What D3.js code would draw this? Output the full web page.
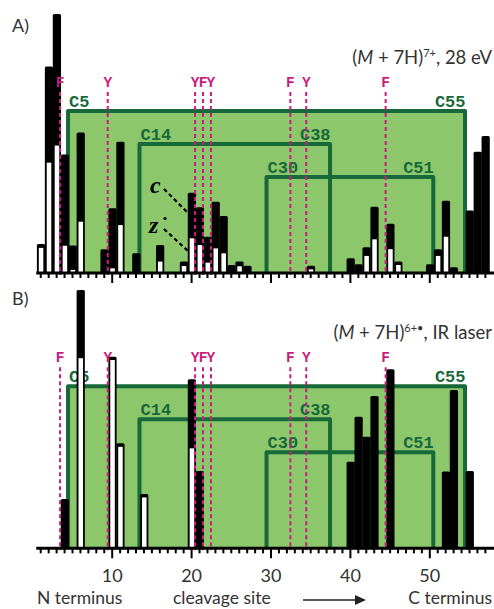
<!DOCTYPE html>
<html><head><meta charset="utf-8">
<script src="https://cdn.jsdelivr.net/npm/d3@7"></script>
<style>body{margin:0;background:#fff}svg{display:block}</style>
</head><body>
<svg id="c" width="494" height="609"></svg>
<script>
// ---------------- DATA ----------------
const sitesA = [1,2,3,4,5,6,9,10,11,13,16,19,20,21,22,23,24,25,26,27,35,40,41,42,43,45,46,50,51,52,53,55,56,57];
const zA =     [9.7,42.6,49.2,10.5,1.2,19.8,0,1.8,18.5,0,4.4,2.7,13.4,10.8,4.0,9.5,7.6,0,2.6,0,1.4,0,0,6.6,13.0,9.2,3.1,0,6.6,14.0,0,0,0,0];
const cA =     [1.5,37.1,50.8,35.3,9.4,34.4,9.2,23.2,32.2,7.6,6.4,1.7,17.6,14.6,10.0,18.0,14.4,3.1,1.8,2.8,1.4,5.7,3.4,3.3,12.6,9.8,1.3,3.4,2.6,13.9,2.2,24.1,46.8,52.9];

const sitesB = [4,6,10,11,14,20,21,40,41,42,43,45,52,53,55];
const zB =     [0,73.6,72.9,39.3,19.7,38.7,0,0,0,0,0,0,0,0,0];
const cB =     [19.1,26.4,1.3,1.4,1.3,26.7,29.9,33.5,50.9,43.2,59.0,69.3,29.7,61.3,29.9];

const aromaticRes  = [4,10,21,22,23,33,35,45];
const aromaticName = ["F","Y","Y","F","Y","F","Y","F"];
const cysLeft  = [5,14,30];
const cysRight = [55,38,51];
const majorTicks = [10,20,30,40,50];
const panelLabels = ["A)","B)"];

// ---------------- LAYOUT ----------------
const W = 494, H = 609;
const svg = d3.select("#c");
const x = d3.scaleLinear().domain([0,58]).range([32.3, 32.3 + 7.94*58]);
const levels = [162, 129, 96];
const fillGreen = "#8dc76c", darkGreen = "#17693a", magenta = "#c81d7e";
const sans = "Lato, 'Open Sans', sans-serif";
const mono = "'Liberation Mono', 'DejaVu Sans Mono', monospace";

const panels = [
  {sites: sitesA, c: cA, z: zA, base: 273, top: 14, showLabels: false, label: panelLabels[0], labelY: 32},
  {sites: sitesB, c: cB, z: zB, base: 548.3, top: 290, showLabels: true, label: panelLabels[1], labelY: 305}
];

panels.forEach((p, pi) => {
  const y = d3.scaleLinear().domain([0,100]).range([p.base, p.top]);
  const g = svg.append("g");

  // green disulfide region
  g.append("rect")
    .attr("x", x(cysLeft[0]-0.5)).attr("y", p.base - levels[0])
    .attr("width", x(cysRight[0]-0.5) - x(cysLeft[0]-0.5)).attr("height", levels[0])
    .attr("fill", fillGreen);

  cysLeft.forEach((a, i) => {
    const b = cysRight[i];
    const yl = p.base - levels[i];
    g.append("path")
      .attr("d", `M${x(a-0.5)},${p.base}V${yl}H${x(b-0.5)}V${p.base}`)
      .attr("fill","none").attr("stroke", darkGreen).attr("stroke-width", 4)
      .attr("stroke-linejoin","round");
    g.append("text").attr("x", x(a-0.5)+1).attr("y", yl-4)
      .attr("font-family", mono).attr("font-weight","bold").attr("font-size", 17)
      .attr("fill", darkGreen).text("C"+a);
    g.append("text").attr("x", x(b-0.5)+0.5).attr("y", yl-4).attr("text-anchor","end")
      .attr("font-family", mono).attr("font-weight","bold").attr("font-size", 17)
      .attr("fill", darkGreen).text("C"+b);
  });

  // bars
  const data = p.sites.map((s, i) => ({s, c: p.c[i], z: p.z[i]}));
  const bw = x(1) - x(0);
  const bars = g.append("g").selectAll("g").data(data).join("g");
  bars.append("rect")
    .attr("x", d => x(d.s - 0.42)).attr("width", bw + 0.3)
    .attr("y", d => y(d.c + d.z)).attr("height", d => p.base - y(d.c + d.z) + 1)
    .attr("rx", 1.5).attr("fill", "#000");
  bars.filter(d => d.z > 0).append("rect")
    .attr("x", d => x(d.s - 0.42) + 1.9).attr("width", bw - 3.4)
    .attr("y", d => y(d.z)).attr("height", d => p.base - y(d.z))
    .attr("fill", "#fff");

  // aromatic residues
  aromaticRes.forEach((r, i) => {
    g.append("line")
      .attr("x1", x(r-0.5)).attr("x2", x(r-0.5))
      .attr("y1", p.base - 181).attr("y2", p.base + 2)
      .attr("stroke", magenta).attr("stroke-width", 2).attr("stroke-dasharray", "4,3");
    g.append("text").attr("x", x(r-0.5)).attr("y", p.base - 186).attr("text-anchor","middle")
      .attr("font-family", mono).attr("font-weight","bold").attr("font-size", 14.5)
      .attr("fill", magenta).text(aromaticName[i]);
  });

  // axis
  const axis = d3.axisBottom(x).tickValues(d3.range(1,58)).tickSize(5).tickSizeOuter(0)
    .tickFormat(d => (p.showLabels && majorTicks.includes(d)) ? d : "");
  const ag = g.append("g").attr("transform", `translate(0,${p.base})`).call(axis);
  ag.select(".domain").remove();
  ag.selectAll(".tick line").attr("stroke","#000").attr("stroke-width", 2)
    .attr("y2", d => majorTicks.includes(d) ? 10 : 5);
  ag.selectAll(".tick text").attr("y", 20.5).attr("font-family", sans)
    .attr("font-size", 18).attr("fill", "#333");
  g.append("line").attr("x1", x(0.5)).attr("x2", W).attr("y1", p.base).attr("y2", p.base)
    .attr("stroke","#000").attr("stroke-width", 3);

  // panel letter
  svg.append("text").attr("x", 12).attr("y", p.labelY).attr("font-family", sans)
    .attr("font-size", 18).attr("fill", "#333").text(p.label);
});

// c / z annotation (panel A)
const ann = svg.append("g");
ann.append("text").attr("x", 150).attr("y", 193).attr("font-family","'Liberation Serif', 'DejaVu Serif', serif")
  .attr("font-style","italic").attr("font-weight","bold").attr("font-size", 24).text("c");
ann.append("text").attr("x", 149).attr("y", 233).attr("font-family","'Liberation Serif', 'DejaVu Serif', serif")
  .attr("font-style","italic").attr("font-weight","bold").attr("font-size", 24).text("z");
ann.append("line").attr("x1",164).attr("y1",189).attr("x2",188).attr("y2",213)
  .attr("stroke","#000").attr("stroke-width",2.2).attr("stroke-dasharray","4,3");
ann.append("line").attr("x1",164).attr("y1",229).attr("x2",188).attr("y2",251)
  .attr("stroke","#000").attr("stroke-width",2.2).attr("stroke-dasharray","4,3");
ann.append("circle").attr("cx",165).attr("cy",218.5).attr("r",1.6).attr("fill","#000");

// titles
function title(yPos, sup, rest) {
  const t = svg.append("text").attr("x", 492).attr("y", yPos).attr("text-anchor","end")
    .attr("font-family", sans).attr("font-size", 18.5).attr("fill", "#333");
  t.append("tspan").text("(");
  t.append("tspan").attr("font-style","italic").text("M");
  t.append("tspan").text(" + 7H)");
  t.append("tspan").attr("dy", -7).attr("font-size", 11).text(sup);
  t.append("tspan").attr("dy", 7).text(rest);
}
title(64, "7+", ", 28 eV");
title(339, "6+\u2022", ", IR laser");

// x labels
svg.append("text").attr("x", 37).attr("y", 604).attr("font-family", sans).attr("font-size", 17.5)
  .attr("fill","#333").text("N terminus");
svg.append("text").attr("x", 173).attr("y", 604).attr("font-family", sans).attr("font-size", 17.5)
  .attr("fill","#333").text("cleavage site");
svg.append("text").attr("x", 492).attr("y", 604).attr("text-anchor","end").attr("font-family", sans).attr("font-size", 17.5)
  .attr("fill","#333").text("C terminus");
svg.append("line").attr("x1", 303).attr("x2", 358).attr("y1", 600).attr("y2", 600)
  .attr("stroke","#222").attr("stroke-width", 1.5);
svg.append("path").attr("d", "M366,600L355,595L355,605Z").attr("fill","#222");
</script>
</body></html>
